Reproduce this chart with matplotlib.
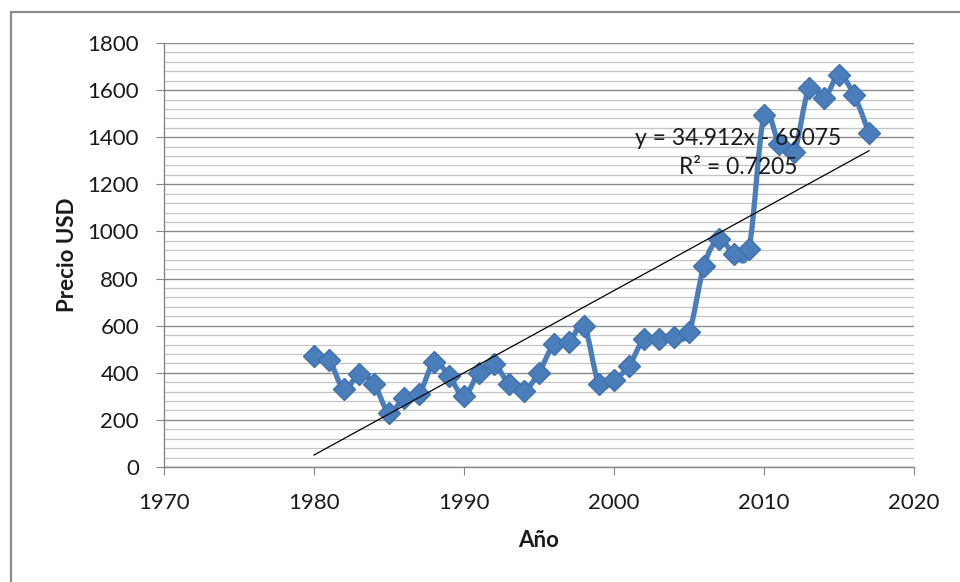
import numpy as np
import matplotlib
matplotlib.use("Agg")
import matplotlib.pyplot as plt
from matplotlib.path import Path
from matplotlib.patches import PathPatch, Rectangle
from matplotlib.ticker import MultipleLocator

# Annual price series (USD)
years = list(range(1980, 2018))
prices = [472, 454, 330, 394, 352, 231, 295, 309, 444, 387,
          302, 401, 437, 352, 323, 401, 522, 529, 600, 352,
          370, 430, 543, 543, 550, 571, 855, 969, 905, 926,
          1494, 1373, 1337, 1607, 1565, 1664, 1579, 1418]

# Linear trend coefficients and fit quality
trend_slope = 34.912
trend_intercept = -69075
trend_r2 = 0.7205

x_ticks = [1970, 1980, 1990, 2000, 2010, 2020]
y_ticks = [0, 200, 400, 600, 800, 1000, 1200, 1400, 1600, 1800]

BLUE = "#4a7ebb"
FONT = "Lato"

plt.rcParams["font.family"] = [FONT, "DejaVu Sans"]

fig = plt.figure(figsize=(9.6, 5.82), dpi=100)
fig.patch.set_facecolor("white")

# Outer chart frame
fig.patches.append(Rectangle((11 / 960, -0.05), 1.2, 1 - 12 / 582 + 0.05,
                             transform=fig.transFigure, fill=False,
                             edgecolor="#8c8c8c", linewidth=1.6))

ax = fig.add_axes([164 / 960, 1 - 467 / 582, (914 - 164) / 960, (467 - 43) / 582])
ax.set_xlim(x_ticks[0], x_ticks[-1])
ax.set_ylim(y_ticks[0], y_ticks[-1])

ax.set_xticks(x_ticks)
ax.set_yticks(y_ticks)
ax.yaxis.set_minor_locator(MultipleLocator(40))

ax.grid(axis="y", which="major", color="#8a8a8a", linewidth=1.0, zorder=0)
ax.grid(axis="y", which="minor", color="#c4c4c4", linewidth=0.9, zorder=0)
ax.set_axisbelow(True)

for side in ("top", "right"):
    ax.spines[side].set_visible(False)
for side in ("left", "bottom"):
    ax.spines[side].set_color("#868686")
    ax.spines[side].set_linewidth(1.0)

ax.tick_params(axis="both", which="major", length=6, color="#868686",
               labelsize=16, labelcolor="#1a1a1a")
ax.tick_params(axis="x", pad=13)
ax.tick_params(axis="y", pad=12)
ax.tick_params(axis="y", which="minor", length=0)

# Smoothed series line (cubic Bezier through each point)
xs = np.array(years, dtype=float)
ys = np.array(prices, dtype=float)
verts = [(xs[0], ys[0])]
codes = [Path.MOVETO]
n = len(xs)
for i in range(n - 1):
    p0 = (xs[i - 1], ys[i - 1]) if i > 0 else (xs[i], ys[i])
    p1 = (xs[i], ys[i])
    p2 = (xs[i + 1], ys[i + 1])
    p3 = (xs[i + 2], ys[i + 2]) if i + 2 < n else (xs[i + 1], ys[i + 1])
    c1 = (p1[0] + (p2[0] - p0[0]) / 6, p1[1] + (p2[1] - p0[1]) / 6)
    c2 = (p2[0] - (p3[0] - p1[0]) / 6, p2[1] - (p3[1] - p1[1]) / 6)
    verts += [c1, c2, p2]
    codes += [Path.CURVE4] * 3
ax.add_patch(PathPatch(Path(verts, codes), facecolor="none", edgecolor=BLUE,
                       linewidth=3.8, capstyle="round", joinstyle="round", zorder=3))

ax.plot(years, prices, linestyle="none", marker="D", markersize=11,
        markerfacecolor=BLUE, markeredgecolor="#3f70ad", markeredgewidth=1.0,
        zorder=4)

# Linear trend line over the data span
tx = np.array([years[0], years[-1]], dtype=float)
ax.plot(tx, trend_slope * tx + trend_intercept, color="black", linewidth=0.9, zorder=5)

eq_text = f"y = {trend_slope:.3f}x - {abs(trend_intercept)}\nR² = {trend_r2}"
ax.text(2008.3, 1333, eq_text, ha="center", va="center", fontsize=16.5,
        color="#1a1a1a", linespacing=1.45, zorder=6)

ax.set_xlabel("Año", fontsize=16, fontweight="bold", color="#1a1a1a", labelpad=12)
ax.set_ylabel("Precio USD", fontsize=16, fontweight="bold", color="#1a1a1a", labelpad=7)

fig.savefig("out.png", dpi=100, facecolor="white")
